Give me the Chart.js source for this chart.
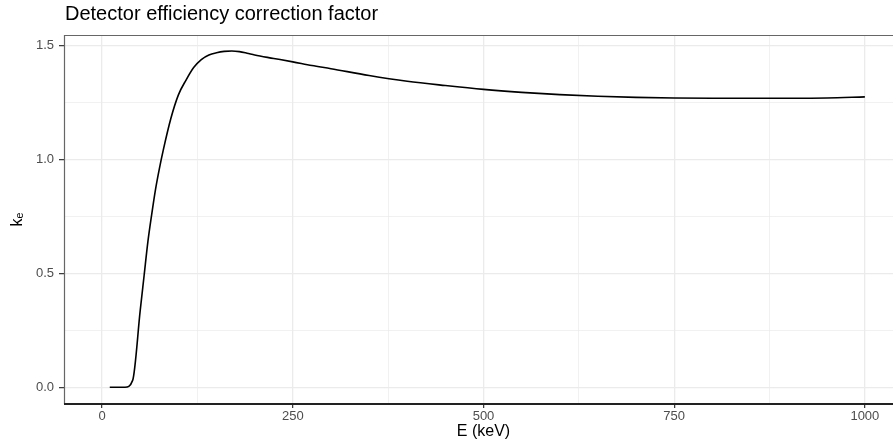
<!DOCTYPE html>
<html>
<head>
<meta charset="utf-8">
<script src="https://cdn.jsdelivr.net/npm/chart.js@4.4.1/dist/chart.umd.min.js"></script>
<style>
  html, body { margin: 0; padding: 0; background: #fff; overflow: hidden; }
  #wrap { width: 910px; height: 448px; }
</style>
</head>
<body>
<div id="wrap"><canvas id="effChart"></canvas></div>
<script>
// energy (keV) and correction factor k_e
const energy = [10, 20, 30, 40, 50, 55, 60, 65, 70, 75, 80, 90, 100, 110, 120, 130, 140, 150, 160, 170, 180, 190, 200, 225, 250, 275, 300, 350, 400, 450, 500, 550, 600, 650, 700, 750, 800, 850, 900, 950, 1000];
const kFactor = [0, 0, 0, 0.03, 0.34, 0.49, 0.64, 0.76, 0.87, 0.96, 1.04, 1.18, 1.285, 1.35, 1.405, 1.44, 1.46, 1.47, 1.476, 1.478, 1.475, 1.468, 1.46, 1.445, 1.43, 1.414, 1.40, 1.37, 1.345, 1.326, 1.309, 1.296, 1.286, 1.279, 1.274, 1.271, 1.270, 1.270, 1.270, 1.271, 1.276];
const xTicks = [0, 125, 250, 375, 500, 625, 750, 875, 1000];
const yTicks = [0, 0.25, 0.5, 0.75, 1.0, 1.25, 1.5];

const FONT = "'Liberation Sans', Arial, sans-serif";

const panelBorder = {
    id: "panelBorder",
    afterDraw(chart) {
        const { ctx, chartArea: a } = chart;
        ctx.save();
        ctx.strokeStyle = "#666";
        ctx.lineWidth = 1.2;
        ctx.beginPath();
        ctx.moveTo(a.left + 0.5, a.bottom);
        ctx.lineTo(a.left + 0.5, a.top + 0.5);
        ctx.lineTo(a.right, a.top + 0.5);
        ctx.stroke();
        ctx.strokeStyle = "#222";
        ctx.lineWidth = 1.8;
        ctx.beginPath();
        ctx.moveTo(a.left, a.bottom);
        ctx.lineTo(a.right, a.bottom);
        ctx.stroke();
        // plot title, left aligned with the panel
        ctx.fillStyle = "#000";
        ctx.font = "20px " + FONT;
        ctx.textBaseline = "middle";
        ctx.textAlign = "left";
        ctx.fillText("Detector efficiency correction factor", a.left + 1, 14);
        ctx.restore();
    },
};

const ctx = document.getElementById("effChart").getContext("2d");
new Chart(ctx, {
    type: "line",
    data: {
        datasets: [
            {
                data: energy.map((e, i) => ({ x: e, y: kFactor[i] })),
                borderColor: "#000",
                borderWidth: 1.6,
                pointRadius: 0,
                cubicInterpolationMode: "monotone",
                fill: false,
            },
        ],
    },
    options: {
        responsive: true,
        maintainAspectRatio: false,
        animation: false,
        layout: { padding: { top: 35, right: 7, left: 0, bottom: 0 } },
        plugins: {
            legend: { display: false },
            tooltip: { enabled: false },
        },
        scales: {
            x: {
                type: "linear",
                min: -50,
                max: 1050,
                afterBuildTicks: (s) => { s.ticks = xTicks.map((v) => ({ value: v })); },
                afterFit: (s) => { s.height = 44; },
                border: { display: false },
                grid: {
                    color: "#EBEBEB",
                    lineWidth: (c) => (c.tick && c.tick.value % 250 === 0 ? 1.3 : 0.7),
                    tickColor: (c) => (c.tick && c.tick.value % 250 === 0 ? "#333" : "rgba(0,0,0,0)"),
                    tickLength: 4,
                    tickWidth: 1.2,
                },
                ticks: {
                    autoSkip: false,
                    maxRotation: 0,
                    padding: 1,
                    color: "#4D4D4D",
                    font: { family: FONT, size: 13 },
                    callback: (v) => (v % 250 === 0 ? String(v) : ""),
                },
                title: {
                    display: true,
                    text: "E (keV)",
                    color: "#000",
                    font: { family: FONT, size: 16 },
                    padding: { top: 0, bottom: 7 },
                },
            },
            y: {
                min: -0.0737,
                max: 1.548,
                afterBuildTicks: (s) => { s.ticks = yTicks.map((v) => ({ value: v })); },
                afterFit: (s) => { s.width = 64; },
                border: { display: false },
                grid: {
                    color: "#EBEBEB",
                    lineWidth: (c) => (c.tick && Math.abs(c.tick.value % 0.5) < 1e-9 ? 1.3 : 0.7),
                    tickColor: (c) => (c.tick && Math.abs(c.tick.value % 0.5) < 1e-9 ? "#333" : "rgba(0,0,0,0)"),
                    tickLength: 5,
                    tickWidth: 1.2,
                },
                ticks: {
                    autoSkip: false,
                    padding: 5,
                    color: "#4D4D4D",
                    font: { family: FONT, size: 13 },
                    callback: (v) => (Math.abs(v % 0.5) < 1e-9 ? v.toFixed(1) : ""),
                },
                title: {
                    display: true,
                    text: "kₑ",
                    color: "#000",
                    font: { family: FONT, size: 16 },
                    padding: { top: 8, bottom: 0 },
                },
            },
        },
    },
    plugins: [panelBorder],
});
</script>
</body>
</html>
